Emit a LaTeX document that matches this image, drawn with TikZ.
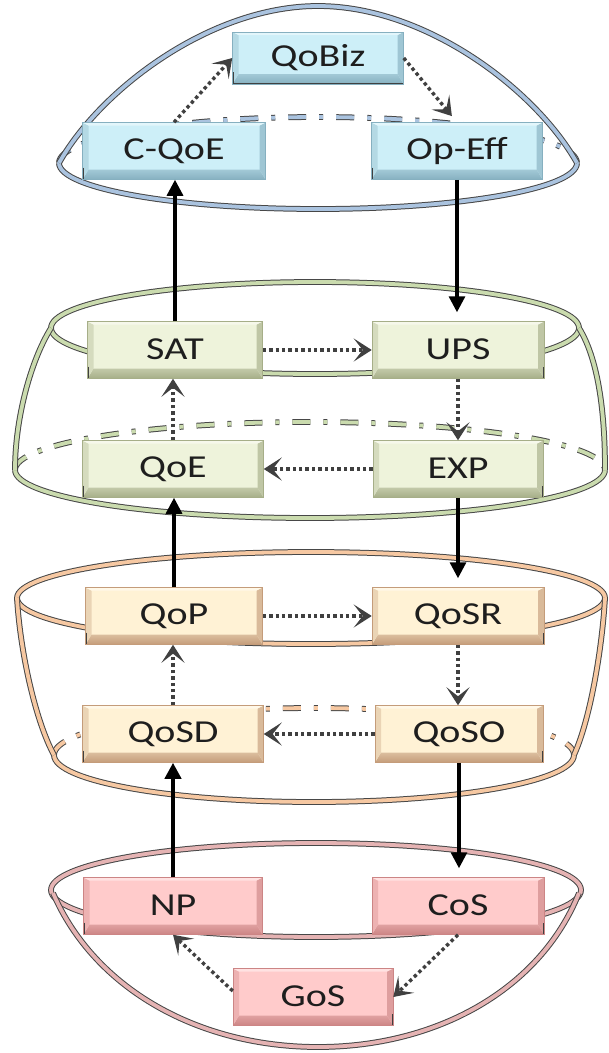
\documentclass[tikz,border=0pt]{standalone}
\usepackage{fontspec}
\setmainfont{Carlito}
\usepackage{graphicx}
\usetikzlibrary{arrows.meta,calc}

% box faces, bevel shades and ring colours of the four layers
\definecolor{bluef}{HTML}{CDEFF8}
\definecolor{blued}{HTML}{86B0C0}
\definecolor{bluel}{HTML}{AAC3DF}
\definecolor{greenf}{HTML}{EEF3DB}
\definecolor{greend}{HTML}{A6AE88}
\definecolor{greenl}{HTML}{CADBAE}
\definecolor{orangef}{HTML}{FFF2D5}
\definecolor{oranged}{HTML}{C49C7A}
\definecolor{orangel}{HTML}{F6C8A2}
\definecolor{redf}{HTML}{FFCBCB}
\definecolor{redd}{HTML}{CC8585}
\definecolor{redl}{HTML}{E5B3B3}
\definecolor{ink}{HTML}{1E1E1E}
\definecolor{dotgray}{HTML}{404040}

% wide box lettering
\newcommand\wtext[1]{\raisebox{2pt}{\scalebox{1.25}[1]{#1}}}

\begin{document}
\begin{tikzpicture}[x=1pt,y=-1pt,
  bevbox/.style 2 args={rectangle, fill=#1, draw=#2, line width=0.5pt,
    inner sep=0pt, minimum height=57pt, text=ink,
    font=\fontsize{32}{32}\selectfont,
    path picture={
      \path (path picture bounding box.south west) coordinate (b1)
            (path picture bounding box.north east) coordinate (b3);
      \coordinate (b2) at (b1 -| b3);
      \coordinate (b4) at (b1 |- b3);
      % bevel faces
      \shade[top color=#2!60!#1, bottom color=#2] (b1) -- (b2) -- ([shift={(-6pt,10pt)}]b2) -- ([shift={(6pt,10pt)}]b1) -- cycle;
      \fill[#2!65!#1] (b2) -- (b3) -- ([shift={(-6pt,-3pt)}]b3) -- ([shift={(-6pt,10pt)}]b2) -- cycle;
      \fill[#2!35!#1] (b1) -- (b4) -- ([shift={(6pt,-3pt)}]b4) -- ([shift={(6pt,10pt)}]b1) -- cycle;
      \fill[white!45!#1] (b4) -- (b3) -- ([shift={(-6pt,-3pt)}]b3) -- ([shift={(6pt,-3pt)}]b4) -- cycle;
      % dark foot edge
      \draw[black!75, line width=2pt] ([yshift=12pt]b1) -- (b1) -- (b2) -- ([yshift=12pt]b2);
    }},
  bluebox/.style={bevbox={bluef}{blued}},
  greenbox/.style={bevbox={greenf}{greend}},
  orangebox/.style={bevbox={orangef}{oranged}},
  redbox/.style={bevbox={redf}{redd}},
  ring/.style={draw=black!72, line width=1pt, double=#1, double distance=3.8pt},
  hiddenpart/.style={dash pattern=on 18pt off 13pt on 4pt off 13pt},
  solidarrow/.style={draw=black, line width=3.2pt, -{Triangle[length=16pt,width=16pt]}},
  dotarrow/.style={draw=dotgray, line width=3.4pt, dash pattern=on 3.4pt off 3pt,
    -{Stealth[length=18pt,width=23pt,inset=9pt]}},
]
\useasboundingbox (0,0) rectangle (609,1053);

% ---- business layer: dome over an ellipse
\draw[ring=bluel, hiddenpart] (59,163) arc[start angle=180, end angle=360, x radius=259, y radius=46];
\draw[ring=bluel] (577,163) arc[start angle=0, end angle=180, x radius=259, y radius=46];
\draw[ring=bluel] (59,163) .. controls (100,90) and (210,6) .. (318,6)
                          .. controls (426,6) and (536,90) .. (577,163);

% ---- user layer: barrel
\draw[ring=greenl] (315,328) ellipse[x radius=264, y radius=46];
\draw[ring=greenl, hiddenpart] (15,470) arc[start angle=180, end angle=360, x radius=295, y radius=48];
\draw[ring=greenl] (605,470) arc[start angle=0, end angle=180, x radius=295, y radius=48];
\draw[ring=greenl] (51,328) .. controls (30,362) and (15,420) .. (15,470);
\draw[ring=greenl] (579,328) .. controls (600,362) and (605,420) .. (605,470);

% ---- service layer: bowl
\draw[ring=orangel] (311,598) ellipse[x radius=294, y radius=46];
\draw[ring=orangel, hiddenpart] (54,755) arc[start angle=180, end angle=360, x radius=260, y radius=47];
\draw[ring=orangel] (574,755) arc[start angle=0, end angle=180, x radius=260, y radius=47];
\draw[ring=orangel] (17,598) .. controls (20,650) and (35,720) .. (54,755);
\draw[ring=orangel] (605,598) .. controls (602,650) and (590,720) .. (574,755);

% ---- network layer: ellipse over a bowl
\draw[ring=redl] (316,890) ellipse[x radius=265, y radius=47];
\draw[ring=redl] (53,893) .. controls (95,990) and (200,1047) .. (318,1047)
                         .. controls (436,1047) and (540,990) .. (579,893);

% ---- boxes
\node[bluebox, minimum width=171pt, minimum height=52pt] (qobiz) at (318,58) {\wtext{QoBiz}};
\node[bluebox, minimum width=183pt] (cqoe) at (174,151) {\wtext{C-QoE}};
\node[bluebox, minimum width=171pt] (opeff) at (457,151) {\wtext{Op-Eff}};

\node[greenbox, minimum width=175pt] (sat) at (175,350) {\wtext{SAT}};
\node[greenbox, minimum width=172pt] (ups) at (458,350) {\wtext{UPS}};
\node[greenbox, minimum width=181pt] (qoe) at (173,469) {\wtext{QoE}};
\node[greenbox, minimum width=170pt] (exp) at (458,469) {\wtext{EXP}};

\node[orangebox, minimum width=177pt] (qop) at (174,616) {\wtext{QoP}};
\node[orangebox, minimum width=172pt] (qosr) at (458,616) {\wtext{QoSR}};
\node[orangebox, minimum width=181pt] (qosd) at (173,734) {\wtext{QoSD}};
\node[orangebox, minimum width=168pt] (qoso) at (459,734) {\wtext{QoSO}};

\node[redbox, minimum width=179pt] (np) at (173,906) {\wtext{NP}};
\node[redbox, minimum width=172pt] (cos) at (458,906) {\wtext{CoS}};
\node[redbox, minimum width=160pt] (gos) at (313,997) {\wtext{GoS}};

% ---- links between layers
\draw[solidarrow] (sat.north) -- (sat.north |- cqoe.south);
\draw[solidarrow, shorten >=9pt] (opeff.south) -- (opeff.south |- ups.north);
\draw[solidarrow] (qop.north) -- (qop.north |- qoe.south);
\draw[solidarrow, shorten >=9pt] (exp.south) -- (exp.south |- qosr.north);
\draw[solidarrow, line width=4.4pt] (np.north) -- (np.north |- qosd.south);
\draw[solidarrow, shorten >=9pt] (qoso.south) -- (qoso.south |- cos.north);

% ---- cycles inside each layer
\draw[dotarrow] (cqoe.north) -- (qobiz.west);
\draw[dotarrow, shorten >=8pt] (qobiz.east) -- (opeff.north);

\draw[dotarrow] (sat.east) -- (ups.west);
\draw[dotarrow] (ups.south) -- (ups.south |- exp.north);
\draw[dotarrow] (exp.west) -- (qoe.east);
\draw[dotarrow] (qoe.north) -- (qoe.north |- sat.south);

\draw[dotarrow] (qop.east) -- (qosr.west);
\draw[dotarrow] (qosr.south) -- (qosr.south |- qoso.north);
\draw[dotarrow] (qoso.west) -- (qosd.east);
\draw[dotarrow] (qosd.north) -- (qosd.north |- qop.south);

\draw[dotarrow] (cos.south) -- (gos.east);
\draw[dotarrow] ([yshift=6pt]gos.west) -- (np.south);
\end{tikzpicture}
\end{document}
